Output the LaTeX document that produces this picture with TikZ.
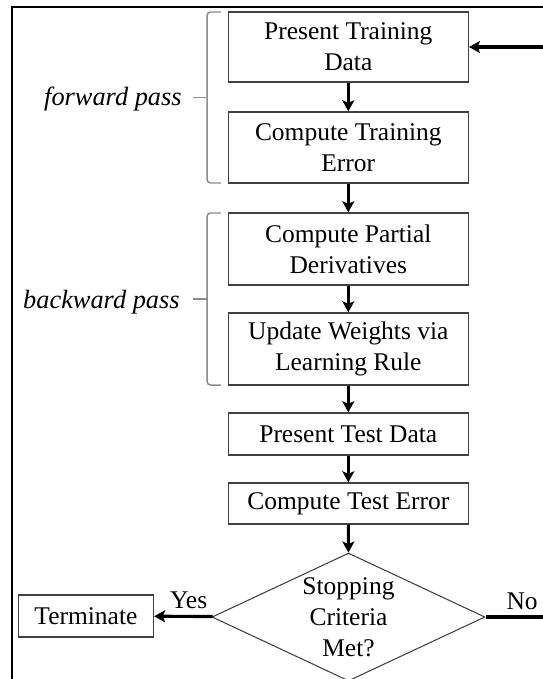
\documentclass[tikz,border=0pt]{standalone}
\usepackage{fontspec}
\setmainfont{Liberation Serif}
\usetikzlibrary{arrows.meta,shapes.geometric}

\begin{document}
\begin{tikzpicture}[x=0.02cm,y=-0.02cm,
  font=\fontsize{14.5pt}{17.6pt}\selectfont,
  stepbox/.style={draw=black!75,line width=0.85pt,minimum width=4.8cm,align=center,inner sep=0pt},
  flow/.style={line width=1.8pt,-{Stealth[length=0.22cm,width=0.24cm,inset=0.05cm]}},
  pass/.style={draw=black!45,line width=0.85pt,rounded corners=2pt},
  passtext/.style={anchor=base east,inner sep=0pt,font=\fontsize{15pt}{18pt}\selectfont\itshape}]
\useasboundingbox (0,0) rectangle (543,679);
\clip (0,0) rectangle (543,679);
\draw[line width=1.1pt] (11.7,720) -- (11.7,6.7) -- (600,6.7);
\node[stepbox,minimum height=1.4cm] (1) at (348.3,47) {Present Training\\Data};
\node[stepbox,minimum height=1.42cm] (2) at (348.3,147.5) {Compute Training\\Error};
\node[stepbox,minimum height=1.44cm] (3) at (348.3,249) {Compute Partial\\Derivatives};
\node[stepbox,minimum height=1.44cm] (4) at (348.3,349) {Update Weights via\\Learning Rule};
\node[stepbox,minimum height=0.84cm] (5) at (348.3,434) {Present Test Data};
\node[stepbox,minimum height=0.82cm] (6) at (348.3,503.5) {Compute Test Error};
\node[shape=diamond,draw=black!75,line width=0.6pt,aspect=2,inner sep=0pt,minimum width=5.46cm,minimum height=2.56cm,align=center] (7) at (348.5,617) {Stopping\\Criteria\\Met?};
\node[stepbox,minimum width=2.7cm,minimum height=0.84cm] (8) at (85.9,616) {Terminate};
\coordinate (back) at (600,617);
\path [flow] (1) edge (2);
\path [flow] (2) edge (3);
\path [flow] (3) edge (4);
\path [flow] (4) edge (5);
\path [flow] (5) edge (6);
\path [flow] (6) edge (7);
\draw[flow] (7) -- node[above,xshift=3pt] {Yes} (8);
\draw[flow] (7.east) -- node[above,pos=0.32] {No} (back) |- (1.east);
% braces
\draw[pass] (221,12) -| (207,97.5) |- (221,183);
\draw[pass] (207,97.5) -- (193,97.5);
\draw[pass] (221,213) -| (207,299) |- (221,385);
\draw[pass] (207,299) -- (193,299);
\node[passtext] (fwd) at (182,106) {forward pass};
\node[passtext] (bwd) at (180,308) {backward pass};
\end{tikzpicture}
\end{document}
